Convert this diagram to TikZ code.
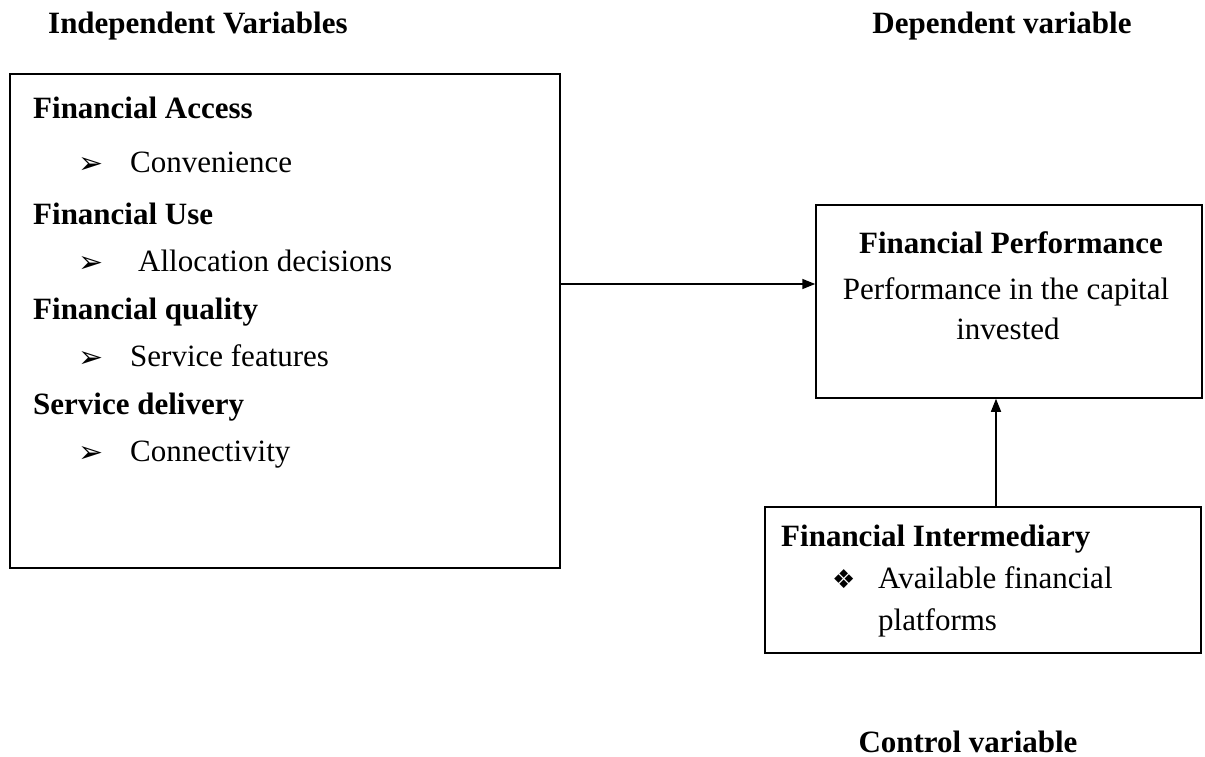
\documentclass[tikz,border=0pt]{standalone}
\usepackage{fontspec}
\setmainfont{Liberation Serif}
\newfontfamily\symfont{DejaVu Sans}
\usetikzlibrary{positioning}
\usetikzlibrary{arrows.meta}
\tikzset{
    box/.style = {rectangle, draw=black, line width=1.5pt, inner sep=0pt},
    head/.style = {anchor=base west, inner sep=0pt, font=\bfseries},
    item/.style = {anchor=base west, inner sep=0pt},
    bulletmark/.style = {anchor=base west, inner sep=0pt, font=\symfont\fontsize{30}{30}\selectfont},
    edgen/.style = {-{Triangle[length=13pt,width=10pt]}, line width=1.5pt},
    every picture/.style={font issue=\fontsize{31}{36}\selectfont},
    font issue/.style={execute at begin picture={#1}}
}

\begin{document}
\begin{tikzpicture}[x=1pt,y=-1pt]
\useasboundingbox (0,0) rectangle (1205,757);
% titles
\node[head] (tind) at (48,34) {Independent Variables};
\node[head, anchor=base] (tdep) at (1002,34) {Dependent variable};
\node[head, anchor=base] (tctl) at (968,752) {Control variable};
%
\node[box, minimum width=550pt, minimum height=494pt] at (285,321) (indep) {};
\node[box, minimum width=386pt, minimum height=193pt] at (1009,301.5) (perf) {};
\node[box, minimum width=436pt, minimum height=146pt] at (983,580) (inter) {};
% independent box
\node[head] (h1) at (33,119) {Financial Access};
\node[bulletmark] (m1) at (78,173) {➢};
\node[item] (i1) at (130,172) {Convenience};
\node[head] (h2) at (33,224) {Financial Use};
\node[bulletmark] (m2) at (78,272) {➢};
\node[item] (i2) at (138,271) {Allocation decisions};
\node[head] (h3) at (33,319) {Financial quality};
\node[bulletmark] (m3) at (78,367) {➢};
\node[item] (i3) at (130,366) {Service features};
\node[head] (h4) at (33,414) {Service delivery};
\node[bulletmark] (m4) at (78,462) {➢};
\node[item] (i4) at (130,461) {Connectivity};
% dependent box
\node[head, anchor=base] (p1) at (1011,253) {Financial Performance};
\node[item, anchor=base] (p2) at (1006,299) {Performance in the capital};
\node[item, anchor=base] (p3) at (1008,339) {invested};
% control box
\node[head] (c1) at (781,546) {Financial Intermediary};
\node[bulletmark, font=\symfont\fontsize{26}{26}\selectfont] (cm) at (832,588) {❖};
\node[item] (c2) at (878,588) {Available financial};
\node[item] (c3) at (878,630) {platforms};
%
\draw[edgen] (indep.east |- 0,284) -- (perf.west |- 0,284);
\draw[edgen] (inter.north -| 996,0) -- (perf.south -| 996,0);
\end{tikzpicture}
\end{document}
